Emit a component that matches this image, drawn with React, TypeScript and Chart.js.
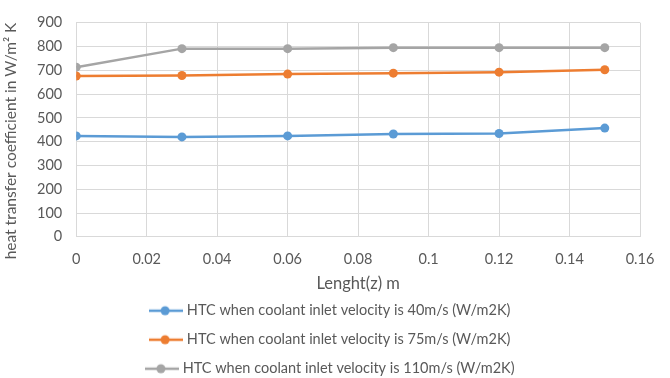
import React, { useEffect, useRef } from "react";
import { Chart, registerables } from "chart.js";

Chart.register(...registerables);

const lengths = [0, 0.03, 0.06, 0.09, 0.12, 0.15];
const htc40 = [424, 420, 424, 432, 434, 457];
const htc75 = [676, 678, 684, 688, 692, 702];
const htc110 = [713, 791, 791, 795, 795, 795];

const seriesLabels = [
  "HTC when coolant inlet velocity is 40m/s (W/m2K)",
  "HTC when coolant inlet velocity is 75m/s (W/m2K)",
  "HTC when coolant inlet velocity is 110m/s (W/m2K)",
];
const seriesColors = ["#5b9bd5", "#ed7d31", "#a5a5a5"];
const yTitle = "heat transfer coefficient in W/m² K";
const xTitle = "Lenght(z) m";

const FONT = "Lato, 'Liberation Sans', sans-serif";
const TEXT = "#595959";
const GRID = "#d9d9d9";

// legend marker: short line with a dot in the middle
function legendMarker(color: string): HTMLCanvasElement {
  const c = document.createElement("canvas");
  c.width = 34;
  c.height = 12;
  const ctx = c.getContext("2d")!;
  ctx.strokeStyle = color;
  ctx.lineWidth = 2.5;
  ctx.beginPath();
  ctx.moveTo(0, 6);
  ctx.lineTo(34, 6);
  ctx.stroke();
  ctx.fillStyle = color;
  ctx.beginPath();
  ctx.arc(16, 6, 4.5, 0, Math.PI * 2);
  ctx.fill();
  return c;
}

// vertical axis title, drawn beside the tick labels
const yTitlePlugin = {
  id: "yTitle",
  afterDraw(chart: any) {
    const ctx = chart.ctx;
    ctx.save();
    ctx.translate(11, 141);
    ctx.rotate(-Math.PI / 2);
    ctx.fillStyle = TEXT;
    ctx.font = `15.5px ${FONT}`;
    ctx.textAlign = "center";
    ctx.textBaseline = "middle";
    ctx.fillText(yTitle, 0, 0);
    ctx.restore();
  },
};

export default function App() {
  const ref = useRef<HTMLCanvasElement | null>(null);

  useEffect(() => {
    if (!ref.current) return;
    const series = [htc40, htc75, htc110];
    const markers = seriesColors.map(legendMarker);
    const chart = new Chart(ref.current, {
      type: "line",
      data: {
        datasets: series.map((vals, i) => ({
          label: seriesLabels[i],
          data: vals.map((v, j) => ({ x: lengths[j], y: v })),
          borderColor: seriesColors[i],
          backgroundColor: seriesColors[i],
          borderWidth: 2.5,
          pointRadius: 4.5,
          pointHoverRadius: 4.5,
          pointBorderWidth: 0,
          tension: 0,
        })),
      },
      plugins: [yTitlePlugin],
      options: {
        animation: false,
        responsive: false,
        maintainAspectRatio: false,
        layout: { padding: { left: 23, right: 30, top: 5, bottom: -8 } },
        scales: {
          x: {
            type: "linear",
            min: 0,
            max: 0.16,
            ticks: {
              stepSize: 0.02,
              color: TEXT,
              font: { family: FONT, size: 14.5 },
              padding: 14,
              callback: (v: any) => String(Math.round(Number(v) * 100) / 100),
            },
            grid: { color: GRID, drawTicks: false },
            border: { color: GRID },
            title: {
              display: true,
              text: xTitle,
              color: TEXT,
              font: { family: FONT, size: 16.5 },
              padding: { top: -8, bottom: -5 },
            },
          },
          y: {
            min: 0,
            max: 900,
            ticks: {
              stepSize: 100,
              color: TEXT,
              font: { family: FONT, size: 14.5 },
              padding: 14,
            },
            grid: { color: GRID, drawTicks: false },
            border: { color: GRID },
          },
        },
        plugins: {
          tooltip: { enabled: false },
          legend: {
            position: "bottom",
            align: "center",
            labels: {
              usePointStyle: true,
              pointStyleWidth: 27,
              color: TEXT,
              font: { family: FONT, size: 14.5 },
              padding: 14.5,
              generateLabels: (c: any) =>
                c.data.datasets.map((ds: any, i: number) => ({
                  text: ds.label,
                  pointStyle: markers[i],
                  fillStyle: seriesColors[i],
                  strokeStyle: seriesColors[i],
                  lineWidth: 0,
                  hidden: false,
                  datasetIndex: i,
                  fontColor: TEXT,
                })),
            },
          },
        },
      },
    });
    return () => chart.destroy();
  }, []);

  return (
    <div style={{ position: "fixed", left: 0, top: 0, width: 670, height: 378, background: "#fff", overflow: "hidden" }}>
      <canvas ref={ref} width={670} height={378} style={{ width: 670, height: 378 }} />
    </div>
  );
}
